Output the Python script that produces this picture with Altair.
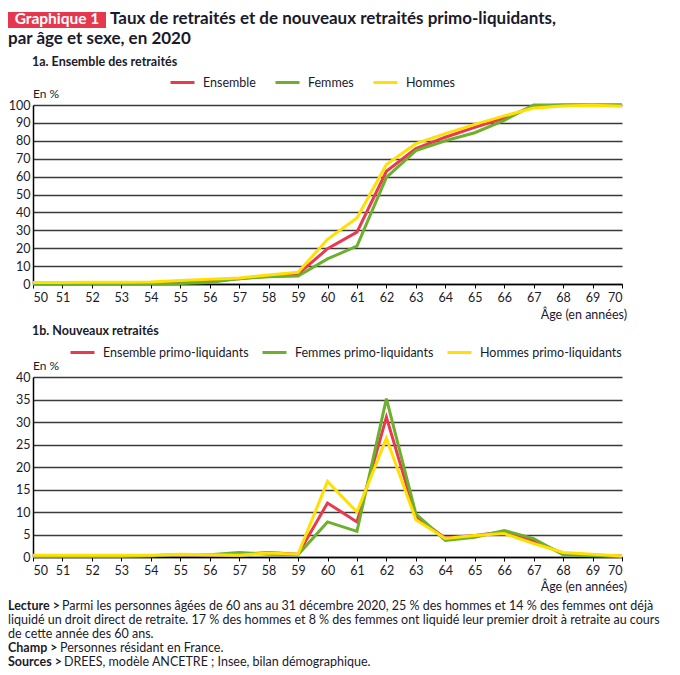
import altair as alt
import pandas as pd

# ---------------- data ----------------
ages = list(range(50, 71))

names_a = ["Ensemble", "Femmes", "Hommes"]
ens_a = [0.4, 0.4, 0.6, 0.6, 0.7, 1.2, 1.7, 3.0, 4.5, 5.5, 19.7, 29.0, 63.0, 75.6, 82.0, 87.5, 92.7, 99.4, 100, 100, 100]
fem_a = [0.0, 0.0, 0.2, 0.2, 0.2, 0.3, 0.8, 3.0, 4.0, 4.5, 14.0, 21.2, 59.6, 74.5, 80.0, 84.5, 91.4, 100, 100, 100, 100]
hom_a = [0.8, 0.8, 1.0, 1.0, 1.1, 2.0, 2.7, 3.4, 5.0, 6.5, 25.0, 36.9, 66.7, 78.4, 84.0, 89.2, 93.9, 98.3, 99.5, 99.8, 99.3]

names_b = ["Ensemble primo-liquidants", "Femmes primo-liquidants", "Hommes primo-liquidants"]
ens_b = [0.2, 0.2, 0.2, 0.2, 0.3, 0.5, 0.5, 0.6, 1.0, 0.6, 12.0, 7.8, 31.1, 9.0, 4.2, 4.8, 5.6, 3.6, 0.8, 0.4, 0.2]
fem_b = [0.1, 0.1, 0.1, 0.1, 0.3, 0.5, 0.5, 1.0, 0.6, 0.5, 7.8, 5.7, 35.2, 9.6, 3.7, 4.4, 5.9, 4.1, 0.5, 0.3, 0.1]
hom_b = [0.4, 0.4, 0.4, 0.4, 0.4, 0.6, 0.5, 0.4, 0.9, 0.6, 16.8, 10.0, 26.4, 8.3, 4.1, 4.8, 5.2, 3.0, 1.0, 0.6, 0.2]

yticks_a = [0, 10, 20, 30, 40, 50, 60, 70, 80, 90, 100]
yticks_b = [0, 5, 10, 15, 20, 25, 30, 35, 40]

colors = ["#E8394F", "#6DB02E", "#FFE000"]

title1 = "Taux de retraités et de nouveaux retraités primo-liquidants,"
title2 = "par âge et sexe, en 2020"
badge = "Graphique 1"
sub_a = "1a. Ensemble des retraités"
sub_b = "1b. Nouveaux retraités"
unit = "En %"
xlab = "Âge (en années)"
notes = [
    ("Lecture >", "Parmi les personnes âgées de 60 ans au 31 décembre 2020, 25 % des hommes et 14 % des femmes ont déjà"),
    ("", "liquidé un droit direct de retraite. 17 % des hommes et 8 % des femmes ont liquidé leur premier droit à retraite au cours"),
    ("", "de cette année des 60 ans."),
    ("Champ >", "Personnes résidant en France."),
    ("Sources >", "DREES, modèle ANCETRE ; Insee, bilan démographique."),
]

FONT = "Lato"
W = 589
INK = "#1a1a2a"


def long_df(names, series):
    rows = []
    for n, s in zip(names, series):
        for a, v in zip(ages, s):
            rows.append({"age": a, "value": v, "serie": n})
    return pd.DataFrame(rows)


dummy = pd.DataFrame({"d": [0]})


def txt(x, y, s, size=12, weight="normal", color=INK, align="left"):
    return alt.Chart(dummy).mark_text(
        text=s, fontSize=size, fontWeight=weight, color=color, align=align,
        baseline="alphabetic", font=FONT
    ).encode(x=alt.value(x), y=alt.value(y))


def panel(df, names, ymax, yticks, H, lx, ly, colpad):
    lines = alt.Chart(df).mark_line(strokeWidth=3).encode(
        x=alt.X("age:Q", scale=alt.Scale(domain=[50, 70], nice=False, zero=False),
                axis=alt.Axis(values=ages, format="d", title=None, grid=False,
                              domainColor="black", domainWidth=1.5, tickColor="black",
                              tickSize=4, tickWidth=1, labelFontSize=12.5, labelFont=FONT,
                              labelColor=INK, labelPadding=3)),
        y=alt.Y("value:Q", scale=alt.Scale(domain=[0, ymax], nice=False),
                axis=alt.Axis(values=yticks, title=None, grid=True, gridColor="#3a3a3a",
                              gridWidth=1.4, domainColor="black", domainWidth=1.5,
                              ticks=False, labelPadding=3, labelFontSize=12.5,
                              labelFont=FONT, labelColor=INK)),
        color=alt.Color("serie:N", scale=alt.Scale(domain=names, range=colors),
                        legend=alt.Legend(orient="none", legendX=lx, legendY=ly,
                                          direction="horizontal", title=None,
                                          symbolType="stroke", symbolStrokeWidth=3,
                                          symbolSize=576, labelFont=FONT,
                                          labelFontSize=12.5, labelColor=INK,
                                          labelOffset=7, columnPadding=colpad, padding=0)),
    )
    return lines.properties(width=W, height=H)


A = panel(long_df(names_a, [ens_a, fem_a, hom_a]), names_a, 100, yticks_a, 179, 136, -36, 13)
A = alt.layer(
    A,
    alt.Chart(dummy).mark_rect(color="#E5384F").encode(
        x=alt.value(-25), x2=alt.value(73), y=alt.value(-93), y2=alt.value(-77)),
    txt(24, -81, badge, 15.5, "bold", "white", "center"),
    txt(77, -81, title1, 17, "bold"),
    txt(-25, -61, title2, 17, "bold"),
    txt(-1, -39, sub_a, 12.5, "bold"),
    txt(0, -7, unit, 12),
    txt(594, 214, xlab, 12.5, align="right"),
)

B = panel(long_df(names_b, [ens_b, fem_b, hom_b]), names_b, 40, yticks_b, 180, 36, -38, 7)
layers_b = [B,
            txt(-1, -42, sub_b, 12.5, "bold"),
            txt(0, -7, unit, 12),
            txt(594, 214, xlab, 12.5, align="right")]
base_y = [232.5, 246.5, 260.5, 274.5, 288.5]
reg_x = {"": -25, "Lecture >": 29, "Champ >": 27, "Sources >": 31}
for (b, r), y in zip(notes, base_y):
    if b:
        layers_b.append(txt(-25, y, b, 12.5, "bold"))
    layers_b.append(txt(reg_x[b], y, r, 12.5))
B = alt.layer(*layers_b)

chart = alt.vconcat(A, B, spacing=93, bounds="flush").resolve_scale(
    color="independent", y="independent"
).properties(padding={"top": 2, "left": 0, "right": 0, "bottom": 0}).configure_view(stroke=None)

chart.save("out.html", embed_options={"renderer": "svg", "actions": False})
